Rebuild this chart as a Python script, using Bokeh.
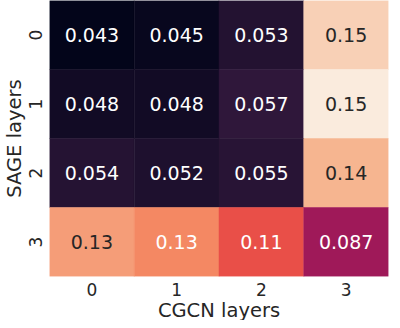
import numpy as np
from bokeh.plotting import figure
from bokeh.models import ColumnDataSource, LinearColorMapper, FactorRange, Title
from bokeh.transform import transform
from bokeh.core.properties import value
from bokeh.embed import file_html
from bokeh.resources import INLINE

# ---- data (rows = SAGE layers, columns = CGCN layers) ----
cgcn_layers = ["0", "1", "2", "3"]
sage_layers = ["0", "1", "2", "3"]
row_sage0 = [0.043, 0.045, 0.053, 0.146]
row_sage1 = [0.048, 0.048, 0.057, 0.154]
row_sage2 = [0.054, 0.052, 0.055, 0.138]
row_sage3 = [0.132, 0.127, 0.113, 0.087]
x_label = "CGCN layers"
y_label = "SAGE layers"

rows = [row_sage0, row_sage1, row_sage2, row_sage3]

# ---- rocket-like palette ----
rocket_anchors = ["#03051a", "#35193e", "#701f57", "#ad1759",
                  "#e13342", "#f37651", "#f6b48f", "#faebdd"]


def hex2rgb(h):
    h = h.lstrip("#")
    return [int(h[i:i + 2], 16) for i in (0, 2, 4)]


anc = np.array([hex2rgb(c) for c in rocket_anchors], dtype=float)
apos = np.linspace(0, 1, len(rocket_anchors))
palette = []
for t in np.linspace(0, 1, 256):
    r, g, b = (int(round(np.interp(t, apos, anc[:, k]))) for k in range(3))
    palette.append("#%02x%02x%02x" % (r, g, b))

vals = [v for r in rows for v in r]
vmin, vmax = min(vals), max(vals)
mapper = LinearColorMapper(palette=palette, low=vmin, high=vmax)


def lum(hexc):
    out = []
    for c in hex2rgb(hexc):
        c = c / 255.0
        out.append(c / 12.92 if c <= 0.03928 else ((c + 0.055) / 1.055) ** 2.4)
    return 0.2126 * out[0] + 0.7152 * out[1] + 0.0722 * out[2]


xs, ys, vs, labels, tcols = [], [], [], [], []
for i, s in enumerate(sage_layers):
    for j, c in enumerate(cgcn_layers):
        v = rows[i][j]
        xs.append(c)
        ys.append(s)
        vs.append(v)
        labels.append("{:.2g}".format(v))
        idx = min(int((v - vmin) / (vmax - vmin) * len(palette)), len(palette) - 1)
        tcols.append("#262626" if lum(palette[idx]) > 0.408 else "#ffffff")

src = ColumnDataSource(dict(cgcn=xs, sage=ys, val=vs, label=labels, tcolor=tcols))

p = figure(width=392, height=320,
           x_range=FactorRange(factors=cgcn_layers),
           y_range=FactorRange(factors=list(reversed(sage_layers))),
           output_backend="svg", toolbar_location=None,
           min_border_left=0, min_border_right=4,
           min_border_top=0, min_border_bottom=0)

p.rect(x="cgcn", y="sage", width=1, height=1, source=src,
       fill_color=transform("val", mapper),
       line_color=transform("val", mapper), line_width=0.5)
p.text(x="cgcn", y="sage", text="label", source=src, text_color="tcolor",
       text_align="center", text_baseline="middle",
       text_font=value("DejaVu Sans"), text_font_size=value("19px"))

for ax in p.axis:
    ax.axis_line_color = None
    ax.major_tick_line_color = None
    ax.minor_tick_line_color = None
    ax.major_tick_out = 0
    ax.major_tick_in = 0
    ax.major_label_text_font = "DejaVu Sans"
    ax.major_label_text_font_size = "17px"
    ax.major_label_text_color = "#262626"
p.xaxis.major_label_standoff = 6
p.yaxis.major_label_standoff = 8
p.yaxis.major_label_orientation = "vertical"
p.xgrid.visible = False
p.ygrid.visible = False
p.outline_line_color = None

title_style = dict(text_font="DejaVu Sans", text_font_size="19.5px",
                   text_font_style="normal", text_color="#262626",
                   align="center", offset=0)
p.add_layout(Title(text=x_label, standoff=-3, **title_style), "below")
p.add_layout(Title(text=y_label, standoff=0, **title_style), "left")

open("out.html", "w").write(file_html(p, INLINE))
